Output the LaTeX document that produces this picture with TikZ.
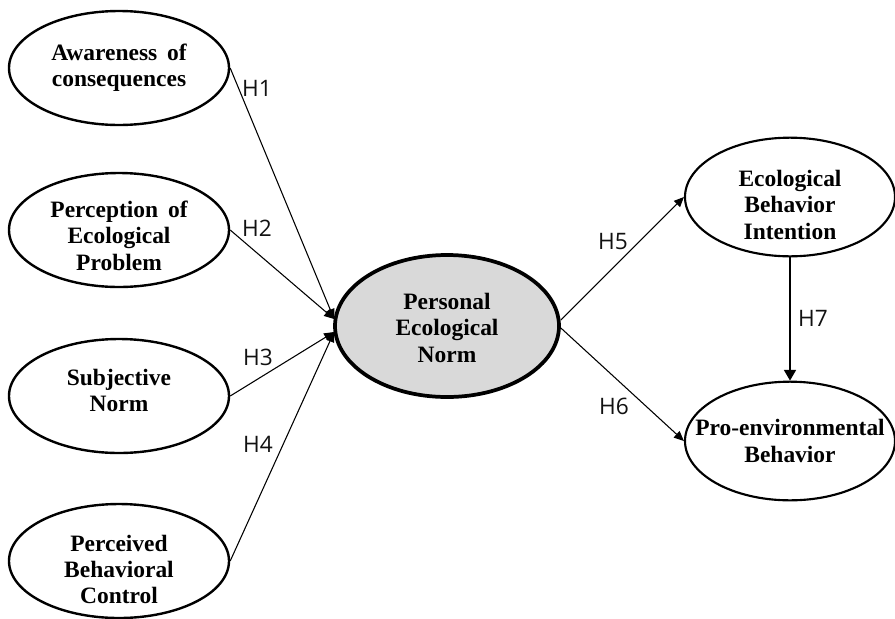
\documentclass[tikz,border=0pt]{standalone}
\usepackage{fontspec}
\setmainfont{Liberation Serif}
\newfontfamily\hfont{Open Sans}
\usetikzlibrary{shapes.geometric,arrows.meta,calc}
\definecolor{penfill}{HTML}{D9D9D9}
\definecolor{hcol}{HTML}{111111}
% text block of an ellipse: zero-size box, centred on the node, moved down by #1
\newcommand{\elltext}[2][0pt]{\makebox[0pt]{\raisebox{0pt}[0pt][0pt]{%
  \raisebox{\dimexpr -4.375pt-#1\relax}{\begin{tabular}{@{}c@{}}#2\end{tabular}}}}}
\tikzset{
  ell/.style={ellipse, draw=black, line width=1.8pt, inner sep=0pt,
    minimum width=165pt, minimum height=85.5pt,
    font=\fontsize{17.6}{19.6}\selectfont\bfseries},
  cen/.style={ell, line width=2.8pt, fill=penfill,
    minimum width=168pt, minimum height=106.5pt},
  rgt/.style={ell, line width=1.6pt, minimum width=157.5pt, minimum height=89pt},
  conn/.style={line width=0.8pt, -{Triangle[length=7.5pt,width=6.5pt]}},
  conn7/.style={line width=1.1pt, -{Triangle[length=8pt,width=9pt]}},
  hlab/.style={font=\hfont\fontsize{17}{18}\selectfont, text=hcol, inner sep=0pt}
}
\begin{document}
\begin{tikzpicture}[x=0.75pt,y=-0.75pt]
\useasboundingbox (0,0) rectangle (895,618);

\node[ell] (aw) at (119,68) {\elltext[0pt]{Awareness\hspace{3pt} of\\consequences}};
\node[ell] (pe) at (119,230) {\elltext[6.5pt]{Perception\hspace{3pt} of\\Ecological\\Problem}};
\node[ell] (sn) at (119,396) {\elltext[-2pt]{Subjective\\Norm}};
\node[ell] (pb) at (119,561) {\elltext[8.5pt]{Perceived\\Behavioral\\Control}};

\node[cen] (pen) at (447,326) {\elltext[3.5pt]{Personal\\Ecological\\Norm}};

\node[rgt] (ebi) at (790,197) {\elltext[8pt]{Ecological\\Behavior\\Intention}};
\node[rgt] (pro) at (790,441) {\elltext[2pt]{Pro-environmental\\Behavior}};

\coordinate (pin1) at ($(pen.west)+(1,-7)$);
\coordinate (pin2) at ($(pen.west)+(1,6)$);
\coordinate (pout1) at ($(pen.east)+(0,-6)$);
\coordinate (pout2) at ($(pen.east)+(0,2)$);

\draw[conn] (aw.east) -- (pin1);
\draw[conn] (pe.east) -- (pin1);
\draw[conn] (sn.east) -- (pin2);
\draw[conn] (pb.east) -- (pin2);
\draw[conn] (pout1) -- (ebi.west);
\draw[conn] (pout2) -- (pro.west);
\draw[conn7] (ebi.south) -- (pro.north);

\node[hlab] (h1) at (257,88) {H1};
\node[hlab] (h2) at (257,228) {H2};
\node[hlab] (h3) at (258,357) {H3};
\node[hlab] (h4) at (258,444) {H4};
\node[hlab] (h5) at (613,242) {H5};
\node[hlab] (h6) at (614,406) {H6};
\node[hlab] (h7) at (813,318) {H7};
\end{tikzpicture}
\end{document}
